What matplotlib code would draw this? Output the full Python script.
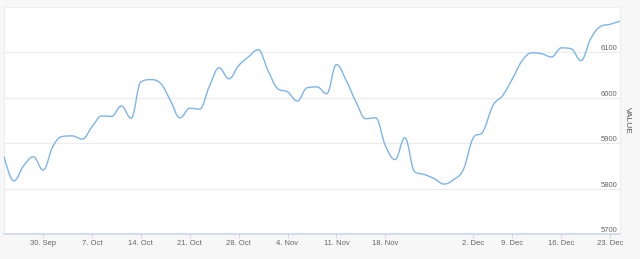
import numpy as np
import matplotlib
matplotlib.use('Agg')
import matplotlib.pyplot as plt
from matplotlib.path import Path
from matplotlib.patches import PathPatch

plt.rcParams['font.family'] = ['Liberation Sans', 'DejaVu Sans']

# daily values (trading days, ordinal axis)
values = [5871, 5817, 5850, 5870, 5841, 5893, 5915, 5916, 5909, 5936,
          5960, 5959, 5982, 5955, 6035, 6040, 6032, 5995, 5956, 5977,
          5975, 6025, 6066, 6042, 6071, 6090, 6106, 6060, 6020, 6013,
          5993, 6022, 6024, 6009, 6073, 6038, 5991, 5954, 5956, 5895,
          5864, 5912, 5837, 5831, 5822, 5810, 5820, 5843, 5912, 5926,
          5983, 6005, 6042, 6082, 6099, 6097, 6090, 6110, 6108, 6082,
          6130, 6157, 6162, 6169]
tick_idx = [4, 9, 14, 19, 24, 29, 34, 39, 48, 52, 57, 62]
tick_labels = ['30. Sep', '7. Oct', '14. Oct', '21. Oct', '28. Oct', '4. Nov',
               '11. Nov', '18. Nov', '2. Dec', '9. Dec', '16. Dec', '23. Dec']
y_ticks = [5700, 5800, 5900, 6000, 6100]
y_range = (5700, 6200)


def spline_path(xs, ys, smoothing=1.5):
    """Highcharts-style spline Bezier path through the points."""
    n = len(xs)
    denom = smoothing + 1
    left = [(xs[i], ys[i]) for i in range(n)]
    right = [(xs[i], ys[i]) for i in range(n)]
    for i in range(1, n - 1):
        px, py = xs[i], ys[i]
        lx, ly = xs[i - 1], ys[i - 1]
        nx, ny = xs[i + 1], ys[i + 1]
        lcx = (smoothing * px + lx) / denom
        lcy = (smoothing * py + ly) / denom
        rcx = (smoothing * px + nx) / denom
        rcy = (smoothing * py + ny) / denom
        if rcx != lcx:
            corr = (rcy - lcy) * (rcx - px) / (rcx - lcx) + py - rcy
            lcy += corr
            rcy += corr
            if lcy > ly and lcy > py:
                lcy = max(ly, py); rcy = 2 * py - lcy
            elif lcy < ly and lcy < py:
                lcy = min(ly, py); rcy = 2 * py - lcy
            if rcy > ny and rcy > py:
                rcy = max(ny, py); lcy = 2 * py - rcy
            elif rcy < ny and rcy < py:
                rcy = min(ny, py); lcy = 2 * py - rcy
        left[i] = (lcx, lcy)
        right[i] = (rcx, rcy)
    verts = [(xs[0], ys[0])]
    codes = [Path.MOVETO]
    for i in range(1, n):
        verts += [right[i - 1], left[i], (xs[i], ys[i])]
        codes += [Path.CURVE4] * 3
    return Path(verts, codes)


W, H = 640, 259
fig = plt.figure(figsize=(W / 100, H / 100), dpi=100, facecolor='#f7f7f7')
x0, x1, y0, y1 = 4, 620, 7, 234
ax = fig.add_axes([x0 / W, 1 - y1 / H, (x1 - x0) / W, (y1 - y0) / H])
ax.set_facecolor('white')

xs = np.arange(len(values))
ax.set_xlim(xs[0], xs[-1])
ax.set_ylim(*y_range)

for v in y_ticks[1:]:
    ax.axhline(v, color='#ececec', lw=0.9, zorder=0)

path = spline_path(list(xs.astype(float)), [float(v) for v in values])
ax.add_patch(PathPatch(path, facecolor='none', edgecolor='#7cb5ec', lw=1.0,
                       transform=ax.transData, zorder=3))

for side in ['top', 'left', 'right']:
    ax.spines[side].set_color('#ebebeb')
    ax.spines[side].set_linewidth(0.6)
ax.spines['bottom'].set_color('#ccd6eb')
ax.spines['bottom'].set_linewidth(1.2)

ax.set_xticks(tick_idx)
ax.set_xticklabels(tick_labels)
ax.tick_params(axis='x', length=3, width=0.7, color='#ccd6eb', pad=1.5,
               labelsize=5.5, labelcolor='#666666')

ax.yaxis.tick_right()
ax.yaxis.set_label_position('right')
ax.set_yticks(y_ticks)
ax.set_yticklabels([str(v) for v in y_ticks])
ax.tick_params(axis='y', length=0, pad=-2, labelsize=5.5, labelcolor='#666666')
for lbl in ax.get_yticklabels():
    lbl.set_horizontalalignment('right')
    lbl.set_verticalalignment('bottom')
ax.set_ylabel('VALUE', rotation=270, fontsize=6, color='#555555', labelpad=8)

fig.savefig('out.png', dpi=100, facecolor=fig.get_facecolor())
